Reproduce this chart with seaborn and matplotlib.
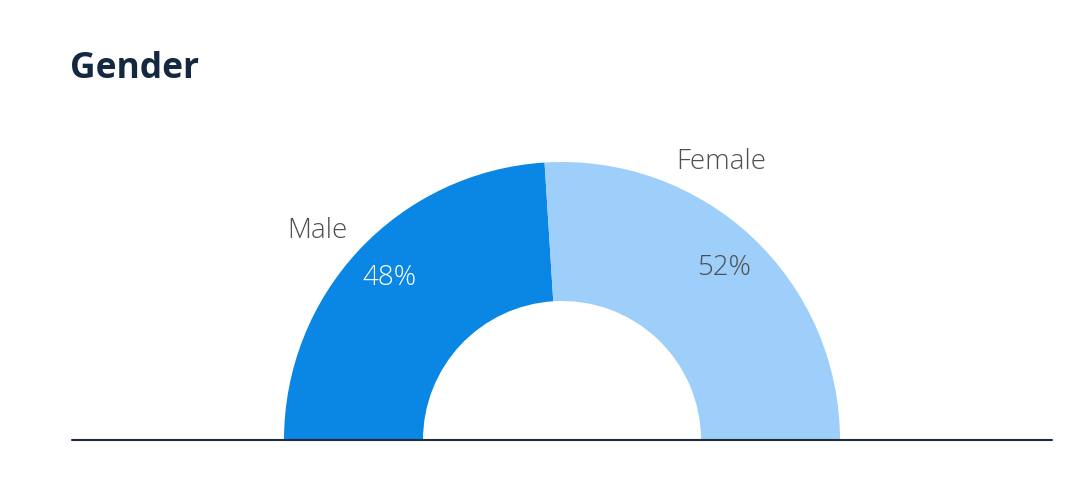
#Gender split shown as a half donut
import matplotlib
matplotlib.use("Agg")
import matplotlib.pyplot as plt
import seaborn as sns

# Data
categories = ["Male", "Female"]
shares = [48, 52]
colors = ["#0a86e4", "#9dcffa"]

sns.set_theme(style="white")
plt.rcParams['font.family'] = ['Open Sans', 'DejaVu Sans']

W, H = 1086, 494
fig = plt.figure(figsize=(W / 100, H / 100), dpi=100)
ax = fig.add_axes([0, 0, 1, 1])

# centre of the donut in pixels and its outer radius
cx, cy, R = 562, 54, 278

# the hidden wedge fills the lower half
values = shares + [sum(shares)]
wedges, texts, autotexts = ax.pie(
    values,
    colors=colors + ["none"],
    startangle=180,
    counterclock=False,
    radius=1,
    wedgeprops=dict(width=0.5, linewidth=0),
    autopct="%.0f%%",
    pctdistance=0.85,
)
for i, t in enumerate(autotexts[:2]):
    t.set_text("%d%%" % shares[i])
    t.set_fontsize(20)
    t.set_fontweight("light")
    t.set_color("white" if i == 0 else "#505050")
autotexts[2].set_text("")

ax.set_xlim(-cx / R, (W - cx) / R)
ax.set_ylim(-cy / R, (H - cy) / R)
ax.set_aspect("equal")
ax.axis("off")

# category labels outside the ring
label_pos = {"Male": (317, 231), "Female": (721, 162)}
for name in categories:
    px, py = label_pos[name]
    ax.text((px - cx) / R, (H - py - cy) / R, name, ha="center", va="center",
            fontsize=20, fontweight="light", color="#505050")

# baseline
ax.axhline(0, xmin=72 / W, xmax=1052 / W, color="#1f2d3d", linewidth=1.5)

fig.text(70 / W, 1 - 78 / H, "Gender", ha="left", va="baseline",
         fontsize=25.5, fontweight="bold", color="#14283f")

fig.savefig("out.png", dpi=100)
